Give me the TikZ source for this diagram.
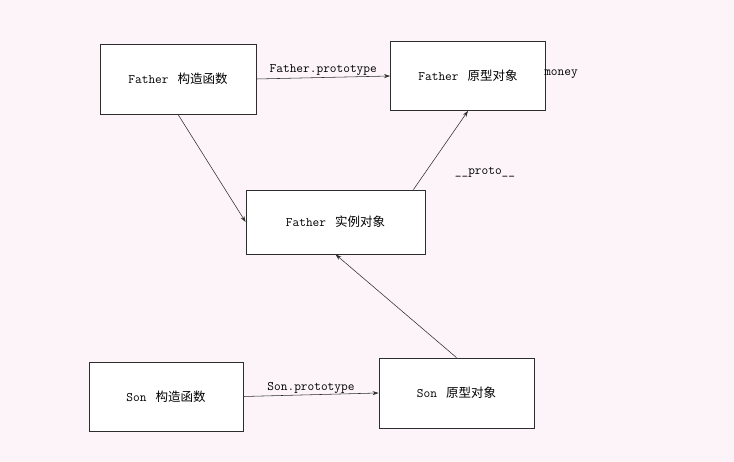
\documentclass[tikz,border=0pt]{standalone}
\usepackage{fontspec}
\newfontfamily\cjk{Noto Sans CJK SC}
\usetikzlibrary{arrows.meta, calc}
\definecolor{bgpink}{RGB}{252,244,249}
\definecolor{edgegray}{RGB}{45,45,45}
\tikzstyle{arrow} = [line width=0.55pt, edgegray, -{Stealth[length=6pt,width=4pt]}]
\tikzstyle{objbox} = [draw=edgegray, line width=0.8pt, fill=white, inner sep=0pt]
\tikzstyle{lbl} = [font=\ttfamily\fontsize{13}{14}\selectfont, text=black, inner sep=1.5pt]
\newcommand{\boxtext}[2]{{\ttfamily\fontsize{13}{14}\selectfont #1}\hspace{9pt}{\cjk\fontsize{12.5}{13}\selectfont #2}}

\begin{document}
\begin{tikzpicture}[x=1pt, y=-1pt]
    \fill[bgpink] (0,0) rectangle (734,462);
    \useasboundingbox (0,0) rectangle (734,462);

    % father side
    \node[objbox, minimum width=156pt, minimum height=70pt] (fctor) at (178,79) {\boxtext{Father}{构造函数}};
    \node[objbox, minimum width=155pt, minimum height=69pt] (fproto) at (468,76) {\boxtext{Father}{原型对象}};
    \node[objbox, minimum width=179pt, minimum height=64pt] (finst) at (335.5,222) {\boxtext{Father}{实例对象}};

    % son side
    \node[objbox, minimum width=154pt, minimum height=69pt] (sctor) at (166,396.5) {\boxtext{Son}{构造函数}};
    \node[objbox, minimum width=155pt, minimum height=70pt] (sproto) at (456.5,393) {\boxtext{Son}{原型对象}};

    \node[lbl] (money) at (561,74) {money};
    \node[lbl] (protolbl) at (485,172) {\_\_proto\_\_};

    \draw[arrow] (fctor.east) -- node[lbl, midway, above] {Father.prototype} (fproto.west);
    \draw[arrow] (fctor.south) -- (finst.west);
    \draw[arrow] ([xshift=-12pt]finst.north east) -- (fproto.south);
    \draw[arrow] (sproto.north) -- (finst.south);
    \draw[arrow] (sctor.east) -- node[lbl, midway, above] {Son.prototype} (sproto.west);
\end{tikzpicture}
\end{document}
